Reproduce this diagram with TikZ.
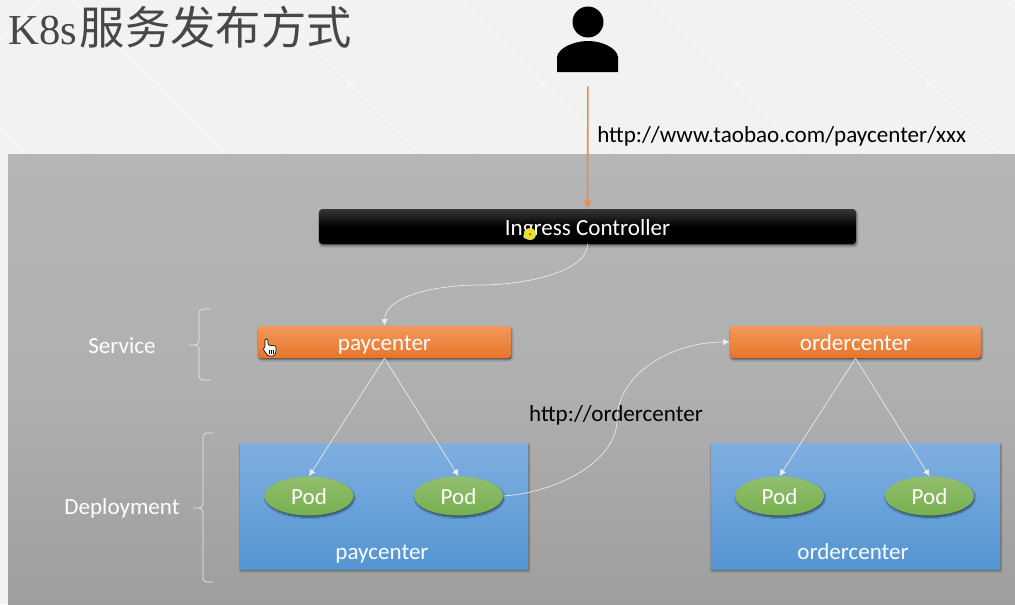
\documentclass[tikz,border=0pt]{standalone}
\usepackage{fontspec}
\setmainfont{Carlito}
\newfontfamily\titlelatin{Liberation Serif}
\newfontfamily\titlecjk{Noto Sans CJK SC}
\usetikzlibrary{arrows.meta, shadows.blur, shapes.geometric}
\def\px{0.75pt}
\definecolor{slidebg}{HTML}{F2F2F2}
\definecolor{arroworange}{HTML}{E58F4E}
\definecolor{pointeryellow}{HTML}{E8E030}
\tikzset{
    softshadow/.style = {blur shadow = {shadow xshift = 0.6pt, shadow yshift = -1.4pt, shadow blur radius = 1pt, shadow blur steps = 5, shadow opacity = 50}},
    textrow/.style = {text height = 13pt, text depth = 1pt},
    ingressbox/.style = {rounded corners = 2.5pt, top color = black!78, bottom color = black, middle color = black, text = white, softshadow, text height = 13pt, text depth = 0.2pt, minimum width = 537*\px, minimum height = 35*\px, inner sep = 0pt},
    servicebox/.style = {rounded corners = 2.5pt, top color = {rgb,255:red,242;green,152;blue,92}, bottom color = {rgb,255:red,232;green,117;blue,42}, text = white, softshadow, textrow, minimum height = 32*\px, inner sep = 0pt},
    deploybox/.style = {top color = {rgb,255:red,128;green,175;blue,225}, bottom color = {rgb,255:red,84;green,149;blue,210}, softshadow, minimum height = 126*\px, inner sep = 0pt},
    podnode/.style = {ellipse, top color = {rgb,255:red,146;green,190;blue,110}, bottom color = {rgb,255:red,118;green,176;blue,78}, text = white, softshadow, textrow, minimum width = 89*\px, minimum height = 39*\px, inner sep = 0pt},
    whitelabel/.style = {text = white, textrow, inner sep = 0pt},
    blacklabel/.style = {text = black, textrow, inner sep = 0pt},
    whitearrow/.style = {draw = white!92!black, line width = 0.5pt, -{Latex[length = 5pt, width = 5pt]}},
    bracket/.style = {draw = white!92!black, line width = 0.5pt, rounded corners = 3pt},
}
\begin{document}
\begin{tikzpicture}[x = 0.75pt, y = -0.75pt, font = \fontsize{17.3}{20}\selectfont]
    \useasboundingbox (0, 0) rectangle (1015, 604);
    % slide background
    \fill[slidebg] (0, 0) rectangle (1015, 604);
    \begin{scope}
        \clip (0, 0) rectangle (1015, 604);
        \foreach \cx in {-236, -43, 157, 350, 543, 737, 930, 1123} {
            \draw[white, opacity = 0.5, line width = 0.8pt] (\cx - 200, -116) -- (\cx + 200, 284);
            \draw[white, opacity = 0.5, line width = 0.8pt] (\cx + 200, -116) -- (\cx - 200, 284);
        }
    \end{scope}
    \shade[top color = black!29, bottom color = black!38, middle color = black!31] (8, 154) rectangle (1015, 604);

    \node[anchor = base west, inner sep = 0pt, text = black!72, font = \fontsize{34}{38}\selectfont] (title) at (8, 44) {\titlelatin\fontsize{32}{38}\selectfont K8s\kern 2.2pt\titlecjk\fontsize{34}{38}\selectfont 服务发布方式};

    % user icon
    \node[minimum width = 61*\px, minimum height = 66*\px, inner sep = 0pt] (user) at (588, 39) {};
    \fill[black] (588, 22) circle [radius = 15.5];
    \fill[black] (557, 72) -- (557, 57) .. controls (558, 48) and (574, 41) .. (588, 41) .. controls (602, 41) and (617, 48) .. (618, 57) -- (618, 72) -- cycle;

    % boxes
    \node[ingressbox] (ingress) at (587.5, 226.5) {Ingress Controller};
    \node[servicebox, minimum width = 253*\px] (paysvc) at (384.5, 342) {paycenter};
    \node[servicebox, minimum width = 251*\px] (ordersvc) at (855.5, 342) {ordercenter};
    \node[deploybox, minimum width = 288*\px] (paydeploy) at (384, 506) {};
    \node[deploybox, minimum width = 289*\px] (orderdeploy) at (855.5, 506) {};
    \node[podnode] (paypoda) at (309, 496) {Pod};
    \node[podnode] (paypodb) at (458.5, 496) {Pod};
    \node[podnode] (orderpoda) at (779.5, 496) {Pod};
    \node[podnode] (orderpodb) at (929.5, 496) {Pod};

    % labels
    \node[whitelabel] (paylabel) at (382, 551) {paycenter};
    \node[whitelabel] (orderlabel) at (853, 551) {ordercenter};
    \node[whitelabel] (svclabel) at (122, 345) {Service};
    \node[whitelabel] (deploylabel) at (122, 506) {Deployment};
    \node[blacklabel, anchor = west] (urllabel) at (597, 134) {http://www.taobao.com/paycenter/xxx};
    \node[blacklabel] (innerlabel) at (616, 413) {http://ordercenter};

    % connectors
    \draw[arroworange, line width = 1.2pt, shorten <= 14*\px, -{Latex[length = 6pt, width = 6pt]}] (user.south) -- (ingress.north);
    \draw[whitearrow] (ingress.south) .. controls (588, 270) and (530, 285) .. (480, 285) .. controls (430, 285) and (385, 298) .. (paysvc.north);
    \draw[whitearrow] (paysvc.south) -- (paypoda.north);
    \draw[whitearrow] (paysvc.south) -- (paypodb.north);
    \draw[whitearrow] (ordersvc.south) -- (orderpoda.north);
    \draw[whitearrow] (ordersvc.south) -- (orderpodb.north);
    \draw[whitearrow] (paypodb.east) .. controls (560, 492) and (617, 460) .. (617, 420) .. controls (617, 375) and (670, 342) .. (ordersvc.west);

    % brackets
    \draw[bracket] (211, 309) -- (199, 309) -- (199, 345) -- (187, 345) -- (199, 345) -- (199, 380) -- (211, 380);
    \draw[bracket] (213, 433) -- (203, 433) -- (203, 508) -- (191, 508) -- (203, 508) -- (203, 582) -- (213, 582);

    % pointer marks
    \fill[pointeryellow] (530, 234) circle [radius = 6];
    \fill[red] (530, 234) circle [radius = 1];
    \filldraw[fill = white, draw = black, line width = 0.5pt, rounded corners = 0.8pt] (265, 339) -- (268, 339) -- (268, 345) -- (276, 346) -- (276, 352) -- (274, 356) -- (268, 356) -- (263, 349) -- (265, 347) -- cycle;
    \foreach \hx in {269, 271, 273} {
        \draw[black, line width = 0.4pt] (\hx, 350) -- (\hx, 354);
    }
\end{tikzpicture}
\end{document}
